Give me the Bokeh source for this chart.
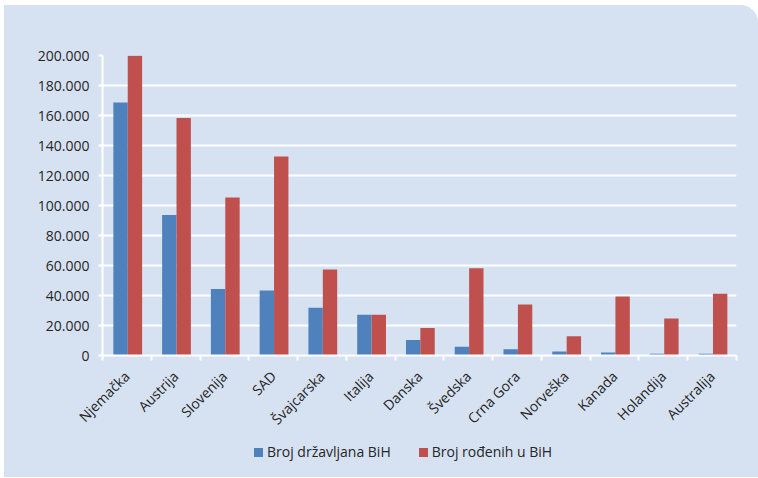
from bokeh.plotting import figure
from bokeh.models import ColumnDataSource, Range1d, FixedTicker, CustomJSTickFormatter, Div
from bokeh.layouts import column
from bokeh.embed import file_html
from bokeh.resources import INLINE
import math

countries = ["Njemačka", "Austrija", "Slovenija", "SAD", "Švajcarska", "Italija", "Danska",
             "Švedska", "Crna Gora", "Norveška", "Kanada", "Holandija", "Australija"]
drzavljani = [168700, 93600, 44300, 43400, 31800, 27200, 10400, 5800, 4200, 2700, 2000, 1100, 1100]
rodjeni = [199800, 158400, 105300, 132700, 57300, 27100, 18400, 58200, 34000, 12900, 39300, 24700, 41100]
series_names = ["Broj državljana BiH", "Broj rođenih u BiH"]
series_colors = ["#4f81bd", "#c0504d"]
y_ticks = [0, 20000, 40000, 60000, 80000, 100000, 120000, 140000, 160000, 180000, 200000]

BG = "#d6e2f2"
TXT = "#262626"
FONT = "Open Sans"

n = len(countries)
idx = list(range(n))
src = ColumnDataSource(dict(
    xb=[i + 0.37 for i in idx],
    xr=[i + 0.665 for i in idx],
    b=drzavljani,
    r=rodjeni,
))

p = figure(width=754, height=435, output_backend="svg", toolbar_location=None,
           x_range=Range1d(0, n), y_range=Range1d(0, 200000),
           min_border_left=98, min_border_right=22, min_border_top=50, min_border_bottom=85)
p.background_fill_color = BG
p.border_fill_color = BG
p.outline_line_color = None

p.vbar(x="xb", top="b", width=0.295, source=src, fill_color=series_colors[0], line_color=None)
p.vbar(x="xr", top="r", width=0.295, source=src, fill_color=series_colors[1], line_color=None)

# grid
p.xgrid.grid_line_color = None
p.ygrid.grid_line_color = "white"
p.ygrid.grid_line_width = 2

# y axis
yax = p.yaxis[0]
yax.ticker = FixedTicker(ticks=y_ticks, minor_ticks=[])
yax.formatter = CustomJSTickFormatter(code="""
    if (tick == 0) return "0";
    return (tick/1000).toFixed(0) + ".000";
""")
yax.axis_line_color = "white"
yax.axis_line_width = 2
yax.major_tick_line_color = "white"
yax.major_tick_line_width = 2
yax.major_tick_in = 0
yax.major_tick_out = 4
yax.minor_tick_line_color = None
yax.major_label_standoff = 9
yax.major_label_text_font = FONT
yax.major_label_text_font_size = "14px"
yax.major_label_text_color = TXT

# x axis
xax = p.xaxis[0]
xax.ticker = FixedTicker(ticks=[i + 0.5 for i in idx], minor_ticks=list(range(n + 1)))
xax.formatter = CustomJSTickFormatter(args=dict(names=countries),
                                      code="return names[Math.floor(tick)];")
xax.axis_line_color = "white"
xax.axis_line_width = 2
xax.major_tick_line_color = None
xax.minor_tick_line_color = "white"
xax.minor_tick_line_width = 2
xax.minor_tick_in = 0
xax.minor_tick_out = 5
xax.major_label_orientation = math.pi / 4
xax.major_label_standoff = 12
xax.major_label_text_font = FONT
xax.major_label_text_font_size = "14px"
xax.major_label_text_color = TXT

# legend (HTML, below the chart)
items = []
for k, (name, col) in enumerate(zip(series_names, series_colors)):
    ml = "0" if k == 0 else "28px"
    items.append(
        f'<span style="display:inline-block;width:9px;height:9px;background:{col};'
        f'margin-left:{ml};margin-right:4px;vertical-align:0px"></span>{name}'
    )
legend_html = (
    f'<div style="position:relative;width:754px;height:37px;font-family:\'{FONT}\';'
    f'font-size:14px;color:{TXT};">'
    f'<span style="position:absolute;left:250px;top:2px;white-space:nowrap;line-height:20px">'
    + "".join(items) + '</span></div>'
)
leg = Div(text=legend_html, width=754, height=37,
          styles={"background-color": BG, "margin": "0", "padding": "0"})

layout = column(p, leg, spacing=0,
                styles={"position": "relative", "left": "4px", "top": "5px",
                        "background-color": BG, "border-radius": "0 18px 0 0",
                        "overflow": "hidden"})

open("out.html", "w").write(file_html(layout, INLINE))
